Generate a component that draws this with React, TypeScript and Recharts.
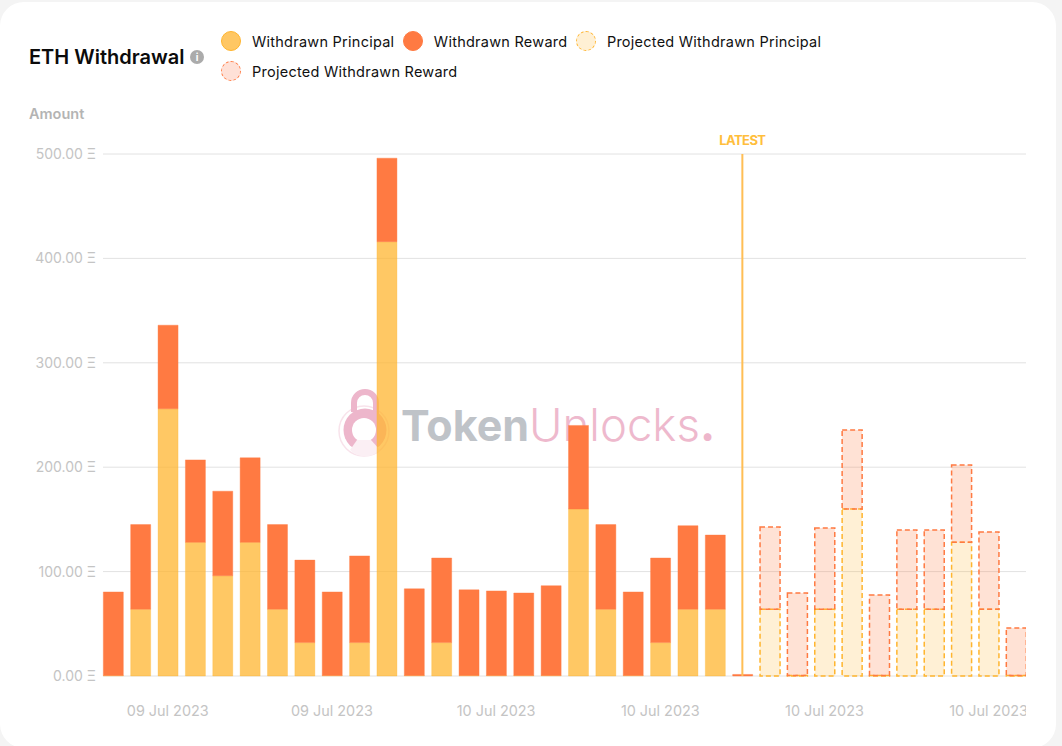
import { BarChart, Bar, XAxis, YAxis, CartesianGrid, ReferenceLine } from 'recharts';

const times = [
  '09 Jul 2023 12h', '09 Jul 2023 13h', '09 Jul 2023 14h', '09 Jul 2023 15h', '09 Jul 2023 16h', '09 Jul 2023 17h',
  '09 Jul 2023 18h', '09 Jul 2023 19h', '09 Jul 2023 20h', '09 Jul 2023 21h', '09 Jul 2023 22h', '09 Jul 2023 23h',
  '10 Jul 2023 00h', '10 Jul 2023 01h', '10 Jul 2023 02h', '10 Jul 2023 03h', '10 Jul 2023 04h', '10 Jul 2023 05h',
  '10 Jul 2023 06h', '10 Jul 2023 07h', '10 Jul 2023 08h', '10 Jul 2023 09h', '10 Jul 2023 10h', '10 Jul 2023 11h',
  '10 Jul 2023 12h', '10 Jul 2023 13h', '10 Jul 2023 14h', '10 Jul 2023 15h', '10 Jul 2023 16h', '10 Jul 2023 17h',
  '10 Jul 2023 18h', '10 Jul 2023 19h', '10 Jul 2023 20h', '10 Jul 2023 21h',
];
const tickTimes = [times[2], times[8], times[14], times[20], times[26], times[32]];
const latestTime = times[23];

const principal = [0.5, 64, 256, 128, 96, 128, 64, 32, 0.5, 32, 416, 0.5, 32, 0.5, 0.5, 0.5, 0.5, 160, 64, 0.5, 32, 64, 64, 0, 0, 0, 0, 0, 0, 0, 0, 0, 0, 0];
const reward = [80, 81, 80, 79, 81, 81, 81, 79, 80, 83, 80, 83, 81, 82, 81, 79, 86, 80, 81, 80, 81, 80, 71, 1.5, 0, 0, 0, 0, 0, 0, 0, 0, 0, 0];
const projectedPrincipal = [0, 0, 0, 0, 0, 0, 0, 0, 0, 0, 0, 0, 0, 0, 0, 0, 0, 0, 0, 0, 0, 0, 0, 0, 64, 0.5, 64, 160, 0.5, 64, 64, 128, 64, 0.5];
const projectedReward = [0, 0, 0, 0, 0, 0, 0, 0, 0, 0, 0, 0, 0, 0, 0, 0, 0, 0, 0, 0, 0, 0, 0, 0, 78.7, 79, 77.7, 75.6, 77, 75.8, 75.8, 74, 74, 45.5];

const yTicks = [0, 100, 200, 300, 400, 500];

const YELLOW = '#FFB52E';
const ORANGE = '#FF7A42';
const FONT = 'Inter, sans-serif';

const legendItems = [
  { name: 'Withdrawn Principal', fill: '#FFC764', border: `1px solid ${YELLOW}` },
  { name: 'Withdrawn Reward', fill: ORANGE, border: `1px solid ${ORANGE}` },
  { name: 'Projected Withdrawn Principal', fill: '#FFF0D4', border: `1px dashed ${YELLOW}` },
  { name: 'Projected Withdrawn Reward', fill: '#FFE1D7', border: `1px dashed ${ORANGE}` },
];

const chartData = times.map((time, i) => ({
  time,
  principal: principal[i],
  reward: reward[i],
  projectedPrincipal: projectedPrincipal[i],
  projectedReward: projectedReward[i],
}));

function Watermark() {
  return (
    <div style={{ position: 'absolute', left: 338, top: 388, width: 400, height: 72 }}>
      <svg width={56} height={72} style={{ position: 'absolute', left: 0, top: 0 }}>
        <circle cx={26} cy={43} r={25} fill="none" stroke="#F8E3EB" strokeWidth={1.5} />
        <path d="M16 24 L16 15 A11 11 0 0 1 38 15 L38 26" fill="none" stroke="#EDB6CB" strokeWidth={6} />
        <circle cx={27} cy={42} r={21.5} fill="#EDB6CB" />
        <circle cx={26} cy={42} r={12} fill="#fff" />
        <path d="M19 52 L33 52 L42 62 A21 21 0 0 1 12 62 Z" fill="#FBEFF4" />
      </svg>
      <div style={{ position: 'absolute', left: 63, top: 10, fontFamily: FONT, fontSize: 45.5, lineHeight: '54px', whiteSpace: 'nowrap' }}>
        <span style={{ color: '#BFC3C8', fontWeight: 700, fontSize: 43 }}>Token</span>
        <span style={{ color: '#EEB9CD', fontWeight: 300 }}>Unlocks</span>
        <span style={{ color: '#EDB6CB', fontWeight: 700 }}>.</span>
      </div>
    </div>
  );
}

export default function App() {
  return (
    <div style={{ position: 'fixed', left: 0, top: 0, width: 1062, height: 746, background: '#F4F4F4', overflow: 'hidden', fontFamily: FONT }}>
      <div style={{ position: 'absolute', left: 0, top: 2, width: 1056, height: 746, background: '#fff', borderRadius: 24 }} />

      {/* Header */}
      <div style={{ position: 'absolute', left: 29, top: 45, fontSize: 20, lineHeight: '24px', fontWeight: 600, color: '#0b0b0b' }}>ETH Withdrawal</div>
      <div style={{ position: 'absolute', left: 190, top: 50, width: 14, height: 14, borderRadius: 7, background: '#ABABAB', color: '#fff', fontSize: 10, lineHeight: '14px', fontWeight: 700, textAlign: 'center' }}>i</div>
      <div style={{ position: 'absolute', left: 221, top: 31, width: 640, display: 'flex', flexWrap: 'wrap', rowGap: 10 }}>
        {legendItems.map(item => (
          <div key={item.name} style={{ display: 'flex', alignItems: 'center', height: 20, marginRight: 8.5 }}>
            <span style={{ boxSizing: 'border-box', width: 20, height: 20, borderRadius: 10, background: item.fill, border: item.border, marginRight: 11 }} />
            <span style={{ fontSize: 14.5, letterSpacing: 0.25, color: '#111', whiteSpace: 'nowrap' }}>{item.name}</span>
          </div>
        ))}
      </div>
      <div style={{ position: 'absolute', left: 29, top: 105, fontSize: 14.5, lineHeight: '18px', fontWeight: 600, color: '#B4B4B4' }}>Amount</div>

      <Watermark />

      <div style={{ position: 'absolute', left: 0, top: 0 }}>
        <BarChart
          width={1026}
          height={746}
          data={chartData}
          margin={{ top: 154, right: 0, bottom: 0, left: 0 }}
          style={{ fontFamily: FONT }}
        >
          <CartesianGrid vertical={false} stroke="#E2E2E2" />
          <XAxis
            dataKey="time"
            ticks={tickTimes}
            interval={0}
            height={70}
            padding={{ left: -3.68, right: -3.68 }}
            axisLine={false}
            tickLine={false}
            tickMargin={24}
            tick={{ fill: '#C4C4C4', fontSize: 14.4 }}
            tickFormatter={(v: string) => v.slice(0, 11)}
          />
          <YAxis
            domain={[0, 500]}
            ticks={yTicks}
            width={103}
            axisLine={false}
            tickLine={false}
            tickMargin={1}
            tick={{ fill: '#C4C4C4', fontSize: 14 }}
            tickFormatter={(v: number) => `${v.toFixed(2)} Ξ`}
          />
          <Bar dataKey="principal" stackId="a" barSize={20} fill={YELLOW} fillOpacity={0.74} stroke={YELLOW} strokeOpacity={0.3} isAnimationActive={false} />
          <Bar dataKey="reward" stackId="a" barSize={20} fill={ORANGE} stroke={ORANGE} strokeOpacity={0.4} isAnimationActive={false} />
          <Bar dataKey="projectedPrincipal" stackId="a" barSize={20} fill={YELLOW} fillOpacity={0.2} stroke={YELLOW} strokeWidth={1.5} strokeDasharray="5 3" isAnimationActive={false} />
          <Bar dataKey="projectedReward" stackId="a" barSize={20} fill={ORANGE} fillOpacity={0.22} stroke={ORANGE} strokeWidth={1.5} strokeDasharray="5 3" isAnimationActive={false} />
          <ReferenceLine
            x={latestTime}
            stroke="#FFBE55"
            strokeWidth={2}
            label={{ value: 'LATEST', position: 'top', fill: '#FFBE3C', fontSize: 13, fontWeight: 700, letterSpacing: -0.6, offset: 9 }}
          />
        </BarChart>
      </div>
    </div>
  );
}
